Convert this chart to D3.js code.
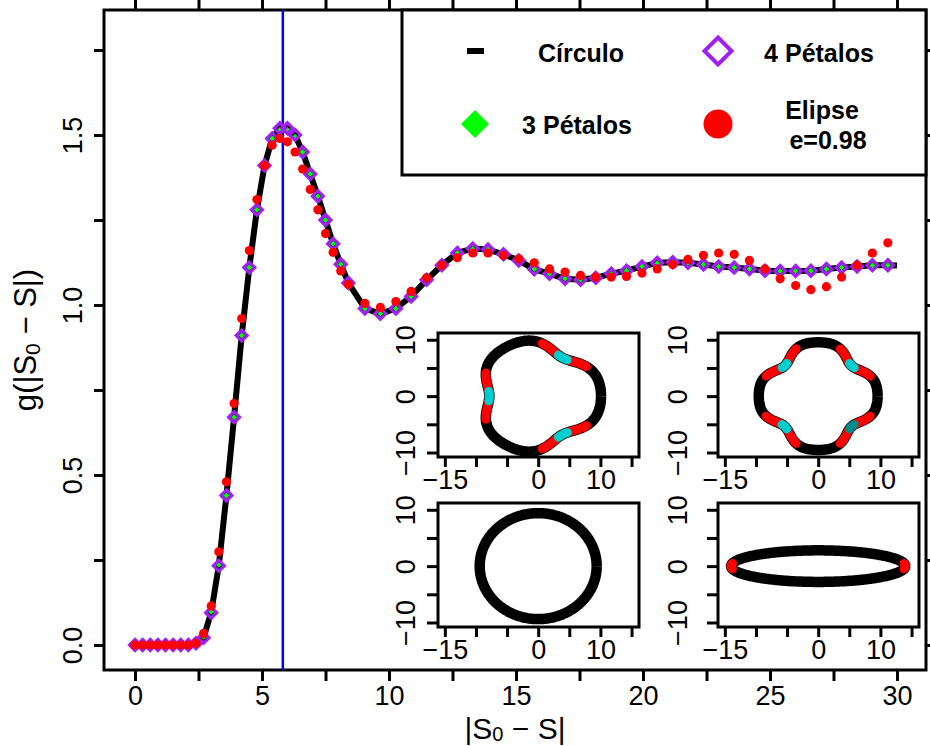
<!DOCTYPE html>
<html>
<head>
<meta charset="utf-8">
<script src="https://cdn.jsdelivr.net/npm/d3@7"></script>
<style>
body { margin:0; background:#fff; }
text { font-family: "Liberation Sans", Arial, Helvetica, sans-serif; }
</style>
</head>
<body>
<script>

// ---- data ----
var sVals = [0,0.3,0.6,0.9,1.2,1.5,1.8,2.1,2.4,2.7,3.0,3.3,3.6,3.9,4.2,4.5,4.8,5.1,5.4,5.7,
  6.0,6.3,6.6,6.9,7.2,7.5,7.8,8.1,8.4,
  9.05,9.66,10.27,10.87,11.48,12.08,12.69,13.3,13.9,14.51,15.11,15.72,16.32,16.93,17.54,18.14,
  18.75,19.35,19.96,20.56,21.17,21.77,22.38,22.98,23.59,24.19,24.8,25.4,26.01,26.61,27.22,27.82,
  28.43,29.03,29.64];

var petalos4 = [0,0,0,0,0,0,0,0,0.005,0.021,0.095,0.233,0.44,0.67,0.91,1.11,1.28,1.41,1.49,1.52,
  1.52,1.50,1.45,1.385,1.32,1.25,1.18,1.12,1.065,
  0.99,0.974,0.99,1.025,1.074,1.117,1.153,1.166,1.163,1.149,1.131,1.105,1.092,1.077,1.074,1.080,
  1.092,1.101,1.113,1.124,1.126,1.124,1.119,1.113,1.110,1.106,1.101,1.100,1.100,1.101,1.106,1.110,
  1.113,1.117,1.117];

var petalos3 = [0,0,0,0,0,0,0,0,0.005,0.024,0.098,0.236,0.44,0.67,0.91,1.11,1.28,1.41,1.49,1.515,
  1.515,1.495,1.45,1.385,1.32,1.25,1.18,1.12,1.065,
  0.99,0.975,0.99,1.025,1.074,1.117,1.153,1.165,1.163,1.149,1.131,1.106,1.092,1.078,1.075,1.080,
  1.092,1.101,1.113,1.123,1.126,1.124,1.119,1.113,1.110,1.106,1.101,1.100,1.100,1.101,1.106,1.110,
  1.113,1.116,1.117];

var elipse = [0,0,0,0,0,0,0,0,0.005,0.034,0.115,0.274,0.48,0.71,0.96,1.16,1.31,1.41,1.47,1.49,
  1.48,1.45,1.40,1.34,1.28,1.21,1.155,1.10,1.06,
  1.005,0.993,1.01,1.04,1.08,1.117,1.139,1.153,1.153,1.146,1.136,1.124,1.106,1.097,1.087,1.082,
  1.082,1.084,1.094,1.106,1.119,1.134,1.146,1.153,1.149,1.131,1.106,1.077,1.057,1.045,1.054,1.082,
  1.117,1.153,1.183];

var circuloS = [0,0.3,0.6,0.9,1.2,1.5,1.8,2.1,2.4,2.7,3.0,3.3,3.6,3.9,4.2,4.5,4.8,5.1,5.4,5.7,
  6.0,6.3,6.6,6.9,7.2,7.5,7.8,8.1,8.4,
  9.05,9.66,10.27,10.87,11.48,12.08,12.69,13.3,13.9,14.51,15.11,15.72,16.32,16.93,17.54,18.14,
  18.75,19.35,19.96,20.56,21.17,21.77,22.38,22.98,23.59,24.19,24.8,25.4,26.01,26.61,27.22,27.82,
  28.43,29.03,29.64,30.0];
var circulo = [0,0,0,0,0,0,0,0,0.005,0.022,0.096,0.234,0.44,0.67,0.91,1.11,1.28,1.41,1.49,1.52,
  1.52,1.50,1.45,1.385,1.32,1.25,1.18,1.12,1.065,
  0.99,0.974,0.99,1.025,1.074,1.117,1.153,1.166,1.163,1.149,1.131,1.105,1.092,1.077,1.074,1.080,
  1.092,1.101,1.113,1.124,1.126,1.124,1.119,1.113,1.110,1.106,1.101,1.100,1.100,1.101,1.106,1.110,
  1.113,1.117,1.117,1.116];

var peakS = 5.82;

var xTicks = [0,2.5,5,7.5,10,12.5,15,17.5,20,22.5,25,27.5,30];
var xLabels = [0,5,10,15,20,25,30];
var yTicks = [0,0.25,0.5,0.75,1,1.25,1.5,1.75];
var yLabels = [0,0.5,1,1.5];

var legendLabels = ["Círculo", "4 Pétalos", "3 Pétalos", "Elipse", "e=0.98"];

// inset shapes: [max radius, notch depth, lobes]
var shape3 = [10.1, 2.25, 3];
var shape4 = [9.55, 1.95, 4];
var circR = 9.4;
var ellAB = [14, 2.8];
var insetXTicks = [-15,-10,-5,0,5,10,15];
var insetXLabels = [-15,0,10];
var insetYTicks = [-10,-5,0,5,10];
var insetYLabels = [-10,0,10];

// ---- drawing ----
var W = 930, H = 746;
var svg = d3.select("body").append("svg").attr("width", W).attr("height", H);

var fr = {left:104, right:926, top:10, bottom:670};
var x = d3.scaleLinear().domain([0,30]).range([135,897]);
var y = d3.scaleLinear().domain([0,1.5]).range([645,135]);

function styleAxis(g, fs) {
  g.select(".domain").remove();
  g.attr("font-size", fs).attr("font-family", '"Liberation Sans", Arial, sans-serif');
  g.selectAll("line").attr("stroke", "#000").attr("stroke-width", 3);
  g.selectAll("text").attr("fill", "#000");
}

// axes
svg.append("g").attr("transform", "translate(0," + fr.bottom + ")")
  .call(d3.axisBottom(x).tickValues(xTicks).tickSize(11).tickPadding(5)
    .tickFormat(function(d){ return xLabels.indexOf(d) >= 0 ? d : ""; }))
  .call(styleAxis, 27);
svg.append("g").attr("transform", "translate(0," + fr.top + ")")
  .call(d3.axisTop(x).tickValues(xTicks).tickSize(10).tickFormat(""))
  .call(styleAxis, 27);
svg.append("g").attr("transform", "translate(" + fr.right + ",0)")
  .call(d3.axisRight(y).tickValues(yTicks).tickSize(10).tickFormat(""))
  .call(styleAxis, 27);
var ly = svg.append("g").attr("transform", "translate(" + fr.left + ",0)")
  .call(d3.axisLeft(y).tickValues(yTicks).tickSize(10)
    .tickFormat(function(d){ return yLabels.indexOf(d) >= 0 ? d.toFixed(1) : ""; }))
  .call(styleAxis, 27);
ly.selectAll("text").attr("x", 0).attr("dy", 0).attr("text-anchor", "middle")
  .attr("transform", "translate(-22,0) rotate(-90)");

// frame
svg.append("rect").attr("x", fr.left).attr("y", fr.top)
  .attr("width", fr.right - fr.left).attr("height", fr.bottom - fr.top)
  .attr("fill", "none").attr("stroke", "#000").attr("stroke-width", 3);

// axis titles
var xt = svg.append("text").attr("x", (fr.left + fr.right) / 2).attr("y", 739)
  .attr("text-anchor", "middle").attr("font-size", 30);
xt.append("tspan").text("|S");
xt.append("tspan").attr("font-size", 20).attr("dy", 2).text("0");
xt.append("tspan").attr("dy", -2).text(" \u2212 S|");

var yt = svg.append("text").attr("transform", "translate(36," + ((fr.top + fr.bottom) / 2) + ") rotate(-90)")
  .attr("text-anchor", "middle").attr("font-size", 31);
yt.append("tspan").text("g(|S");
yt.append("tspan").attr("font-size", 21).attr("dy", 4).text("0");
yt.append("tspan").attr("dy", -4).text(" \u2212 S|)");

// vertical line at the peak
svg.append("line").attr("x1", x(peakS)).attr("x2", x(peakS))
  .attr("y1", fr.top).attr("y2", fr.bottom)
  .attr("stroke", "#0000FF").attr("stroke-width", 2.5);

// Circulo line
var line = d3.line().x(function(d){ return x(d[0]); }).y(function(d){ return y(d[1]); });
svg.append("path").datum(d3.zip(circuloS, circulo)).attr("d", line)
  .attr("fill", "none").attr("stroke", "#000").attr("stroke-width", 6)
  .attr("stroke-linejoin", "round");

function diamond(r) { return "M0," + (-r) + "L" + r + ",0L0," + r + "L" + (-r) + ",0Z"; }

// 3 petals: small green diamonds
svg.append("g").selectAll("path").data(d3.zip(sVals, petalos3)).enter().append("path")
  .attr("transform", function(d){ return "translate(" + x(d[0]) + "," + y(d[1]) + ")"; })
  .attr("d", diamond(3)).attr("fill", "#00FF00");

// 4 petals: open purple diamonds
svg.append("g").selectAll("path").data(d3.zip(sVals, petalos4)).enter().append("path")
  .attr("transform", function(d){ return "translate(" + x(d[0]) + "," + y(d[1]) + ")"; })
  .attr("d", diamond(5.5)).attr("fill", "none").attr("stroke", "#A020F0").attr("stroke-width", 3.2);

// ellipse: red dots
svg.append("g").selectAll("circle").data(d3.zip(sVals, elipse)).enter().append("circle")
  .attr("cx", function(d){ return x(d[0]); }).attr("cy", function(d){ return y(d[1]); })
  .attr("r", 4.6).attr("fill", "#FF0000");

// legend
var lg = svg.append("g");
lg.append("rect").attr("x", 402).attr("y", fr.top).attr("width", fr.right - 402).attr("height", 165)
  .attr("fill", "#fff").attr("stroke", "#000").attr("stroke-width", 3);
lg.append("rect").attr("x", 467).attr("y", 48).attr("width", 17).attr("height", 6).attr("fill", "#000");
lg.append("path").attr("transform", "translate(718,51)").attr("d", diamond(13.5))
  .attr("fill", "none").attr("stroke", "#A020F0").attr("stroke-width", 4);
lg.append("path").attr("transform", "translate(475,124)").attr("d", diamond(14)).attr("fill", "#00FF00");
lg.append("circle").attr("cx", 718).attr("cy", 124).attr("r", 14.5).attr("fill", "#FF0000");
var lgPos = [[581,62],[819,62],[577,134],[822,119],[828,149]];
lg.selectAll("text.lab").data(legendLabels).enter().append("text").attr("class", "lab")
  .attr("x", function(d,i){ return lgPos[i][0]; }).attr("y", function(d,i){ return lgPos[i][1]; })
  .attr("text-anchor", "middle").attr("font-size", 25).attr("font-weight", "bold")
  .text(function(d){ return d; });

// ---- insets ----
var insets = [
  {x0:438, y0:333, lab:23, kind:"p3"},
  {x0:718, y0:333, lab:31, kind:"p4"},
  {x0:438, y0:503, lab:23, kind:"c"},
  {x0:718, y0:503, lab:31, kind:"e"}
];
var iw = 201, ih = 124;
var angles = d3.range(0, 361, 1);
var rad = Math.PI / 180;

// circle with n smooth notches
function petal(p, t) {
  var s = Math.sin(p[2] * t * rad / 2);
  var r = p[0] - p[1] * Math.pow(s * s, 2.2);
  return [r * Math.cos(t * rad), r * Math.sin(t * rad)];
}

insets.forEach(function(ins) {
  var sx = d3.scaleLinear().domain([-16.1, 16.2]).range([ins.x0, ins.x0 + iw]);
  var sy = d3.scaleLinear().domain([-10.8, 11.2]).range([ins.y0 + ih, ins.y0]);
  var g = svg.append("g");
  g.append("rect").attr("x", ins.x0).attr("y", ins.y0).attr("width", iw).attr("height", ih).attr("fill", "#fff");
  var ln = d3.line().x(function(d){ return sx(d[0]); }).y(function(d){ return sy(d[1]); });

  var ring, segs = [];
  if (ins.kind === "p3" || ins.kind === "p4") {
    var p = ins.kind === "p3" ? shape3 : shape4;
    ring = angles.map(function(t){ return petal(p, t); });
    var n = p[2], cw = ins.kind === "p3" ? 8 : 6, rw = ins.kind === "p3" ? 26 : 22;
    for (var k = 0; k < n; k++) {
      var c = (180 / n) + k * 360 / n;
      var cyanCol = (ins.kind === "p4" && k === 3) ? "#008B8B" : "#00CDCD";
      segs.push({pts: d3.range(c - rw, c - cw + 0.1, 1).map(function(t){ return petal(p, t); }), col:"#FF0000"});
      segs.push({pts: d3.range(c + cw, c + rw + 0.1, 1).map(function(t){ return petal(p, t); }), col:"#FF0000"});
      segs.push({pts: d3.range(c - cw + 2, c + cw - 1.9, 1).map(function(t){ return petal(p, t); }), col:cyanCol});
    }
  } else if (ins.kind === "c") {
    ring = angles.map(function(t){ return [circR * Math.cos(t * rad), circR * Math.sin(t * rad)]; });
  } else {
    var el = function(t){ return [ellAB[0] * Math.cos(t * rad), ellAB[1] * Math.sin(t * rad)]; };
    ring = angles.map(el);
    segs.push({pts: d3.range(-10, 10.1, 1).map(el), col:"#FF0000"});
    segs.push({pts: d3.range(170, 190.1, 1).map(el), col:"#FF0000"});
  }
  g.append("path").datum(ring).attr("d", ln).attr("fill", "none")
    .attr("stroke", "#000").attr("stroke-width", 10.5).attr("stroke-linejoin", "round");
  segs.forEach(function(s) {
    g.append("path").datum(s.pts).attr("d", ln).attr("fill", "none")
      .attr("stroke", s.col).attr("stroke-width", 9).attr("stroke-linecap", "round");
  });

  g.append("rect").attr("x", ins.x0).attr("y", ins.y0).attr("width", iw).attr("height", ih)
    .attr("fill", "none").attr("stroke", "#000").attr("stroke-width", 3);

  g.append("g").attr("transform", "translate(0," + (ins.y0 + ih) + ")")
    .call(d3.axisBottom(sx).tickValues(insetXTicks).tickSize(10).tickPadding(3)
      .tickFormat(function(d){ return insetXLabels.indexOf(d) >= 0 ? d3.format("d")(d) : ""; }))
    .call(styleAxis, 27);
  var ay = g.append("g").attr("transform", "translate(" + ins.x0 + ",0)")
    .call(d3.axisLeft(sy).tickValues(insetYTicks).tickSize(11)
      .tickFormat(function(d){ return insetYLabels.indexOf(d) >= 0 ? d3.format("d")(d) : ""; }))
    .call(styleAxis, 27);
  ay.selectAll("text").attr("x", 0).attr("dy", 0).attr("text-anchor", "middle")
    .attr("transform", "translate(" + (-ins.lab) + ",0) rotate(-90)");
});

</script>
</body>
</html>
